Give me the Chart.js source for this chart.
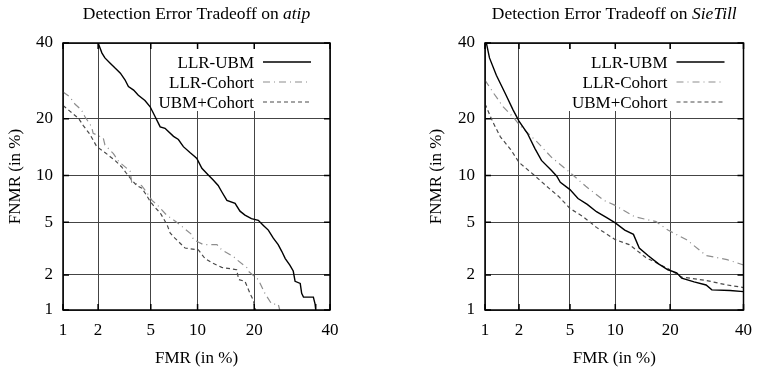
<!DOCTYPE html>
<html><head><meta charset="utf-8">
<script src="https://cdn.jsdelivr.net/npm/chart.js@4.4.1/dist/chart.umd.min.js"></script>
<style>
html,body{margin:0;padding:0;background:#fff;}
#wrap{position:relative;width:762px;height:370px;overflow:hidden;}
.cell{position:absolute;top:0;width:381px;height:370px;}
</style></head><body>
<div id="wrap">
<div class="cell" style="left:0"><canvas id="c1" width="381" height="370"></canvas></div>
<div class="cell" style="left:381px"><canvas id="c2" width="381" height="370"></canvas></div>
</div>
<script>
// ---------------- data (values in %) ----------------
const axisTicks = [1, 2, 5, 10, 20, 40];
const seriesNames = ['LLR-UBM', 'LLR-Cohort', 'UBM+Cohort'];

// atip
const atipUbmFmr   = [2.0, 2.15, 2.27, 2.5, 2.73, 3.0, 3.25, 3.45, 3.77, 4.08, 4.55, 4.95, 5.35, 5.8, 6.25, 7.1, 7.63, 8.2, 9.0, 9.65, 9.9, 10.6, 11.5, 12.3, 13.1, 13.7, 14.6, 16.1, 17.05, 18.05, 19.4, 20.9, 22.05, 23.2, 24.4, 25.6, 26.5, 27.4, 28.6, 29.5, 30.0, 31.4, 31.8, 32.3, 35.1, 35.6, 35.8];
const atipUbmFnmr  = [40, 37, 35.6, 34.1, 32.7, 31.3, 29.5, 27.7, 26.8, 25.5, 24.2, 22.7, 20.5, 18.3, 18, 16.4, 15.8, 14.5, 13.5, 12.8, 12.5, 11, 10.1, 9.4, 8.7, 7.95, 7.0, 6.7, 5.95, 5.6, 5.3, 5.15, 4.75, 4.4, 3.85, 3.45, 3.07, 2.7, 2.4, 2.15, 1.77, 1.7, 1.4, 1.3, 1.3, 1.13, 1.0];
const atipCohFmr   = [1.0, 1.15, 1.28, 1.45, 1.55, 1.77, 1.82, 2.2, 2.27, 2.65, 2.92, 3.55, 3.65, 4.3, 4.65, 5.1, 5.5, 6.4, 7.63, 9.2, 9.45, 10.8, 12.9, 13.7, 15.8, 16.4, 18.4, 18.7, 20.9, 22.4, 24.0, 25.6, 26.0];
const atipCohFnmr  = [26.3, 25.1, 23.3, 22, 20.5, 18.3, 17, 16.1, 14.8, 13.3, 12, 10.6, 9.1, 8.7, 7.95, 7.0, 6.6, 5.6, 4.9, 4.1, 3.75, 3.45, 3.45, 3.15, 2.8, 2.65, 2.3, 2.15, 1.83, 1.4, 1.13, 1.13, 1.0];
const atipMixFmr   = [1.0, 1.15, 1.37, 1.5, 1.71, 1.95, 2.27, 2.5, 2.73, 3.07, 3.33, 3.65, 3.97, 4.3, 4.65, 4.95, 5.35, 5.8, 6.45, 6.75, 7.25, 8.4, 10.1, 11.05, 12.1, 13.7, 16.4, 16.8, 18.05, 19.1, 19.8, 20.2, 20.3];
const atipMixFnmr  = [23, 21.7, 20.1, 18.6, 16.8, 14.5, 13.5, 12.8, 12.2, 11.2, 10.3, 9.4, 8.7, 8.4, 7.6, 6.9, 6.3, 5.8, 4.8, 4.2, 3.85, 3.25, 3.15, 2.7, 2.5, 2.3, 2.2, 1.83, 1.77, 1.4, 1.22, 1.03, 1.0];

// SieTill
const sieUbmFmr    = [1.03, 1.1, 1.27, 1.52, 1.78, 2.0, 2.35, 2.7, 3.05, 3.65, 4.0, 4.25, 5.0, 5.7, 6.6, 7.6, 8.9, 10.0, 11.4, 12.8, 13.8, 15.4, 17.5, 19.5, 21.5, 22.7, 25.8, 29.0, 30.6, 35.9, 40];
const sieUbmFnmr   = [40, 35.6, 30.7, 26, 22, 19.5, 17, 14.2, 12.2, 10.7, 9.9, 9.1, 8.2, 7.2, 6.6, 5.9, 5.35, 4.95, 4.4, 4.1, 3.25, 2.85, 2.45, 2.2, 2.08, 1.88, 1.75, 1.65, 1.5, 1.48, 1.45];
const sieCohFmr    = [1.0, 1.2, 1.47, 1.78, 2.03, 2.8, 3.65, 5.0, 6.45, 8.5, 10.0, 13.0, 17.0, 19.5, 23.9, 29.0, 35.0, 40];
const sieCohFnmr   = [29.4, 26, 22.6, 20.4, 18.6, 15.4, 12.7, 10.4, 8.6, 7.0, 6.5, 5.45, 5.05, 4.4, 3.75, 2.85, 2.65, 2.4];
const sieMixFmr    = [1.0, 1.18, 1.38, 1.7, 2.0, 2.6, 3.35, 4.15, 5.0, 6.2, 7.6, 10.0, 12.1, 15.0, 19.5, 22.7, 29.0, 35.0, 40];
const sieMixFnmr   = [23.4, 19.3, 16.3, 14, 11.9, 10.2, 8.6, 7.4, 6.2, 5.45, 4.6, 3.75, 3.45, 2.75, 2.25, 1.92, 1.8, 1.65, 1.57];

// ---------------- normal-deviate (probit) scale ----------------
function probit(p) {
  const a=[-3.969683028665376e+01,2.209460984245205e+02,-2.759285104469687e+02,1.383577518672690e+02,-3.066479806614716e+01,2.506628277459239e+00];
  const b=[-5.447609879822406e+01,1.615858368580409e+02,-1.556989798598866e+02,6.680131188771972e+01,-1.328068155288572e+01];
  const c=[-7.784894002430293e-03,-3.223964580411365e-01,-2.400758277161838e+00,-2.549732539343734e+00,4.374664141464968e+00,2.938163982698783e+00];
  const d=[7.784695709041462e-03,3.224671290700398e-01,2.445134137142996e+00,3.754408661907416e+00];
  const pl=0.02425, ph=1-pl; let q, r;
  if (p < pl) { q=Math.sqrt(-2*Math.log(p)); return (((((c[0]*q+c[1])*q+c[2])*q+c[3])*q+c[4])*q+c[5])/((((d[0]*q+d[1])*q+d[2])*q+d[3])*q+1); }
  if (p <= ph) { q=p-0.5; r=q*q; return (((((a[0]*r+a[1])*r+a[2])*r+a[3])*r+a[4])*r+a[5])*q/(((((b[0]*r+b[1])*r+b[2])*r+b[3])*r+b[4])*r+1); }
  q=Math.sqrt(-2*Math.log(1-p)); return -(((((c[0]*q+c[1])*q+c[2])*q+c[3])*q+c[4])*q+c[5])/((((d[0]*q+d[1])*q+d[2])*q+d[3])*q+1);
}
function normCdf(x) {
  const t = 1/(1+0.3275911*Math.abs(x)/Math.SQRT2);
  const y = 1-(((((1.061405429*t-1.453152027)*t)+1.421413741)*t-0.284496736)*t+0.254829592)*t*Math.exp(-x*x/2);
  return x >= 0 ? 0.5*(1+y) : 0.5*(1-y);
}
class ProbitScale extends Chart.LinearScale {
  static id = 'probit';
  static defaults = {};
  buildTicks() { return axisTicks.map(v => ({ value: v })); }
  configure() {
    super.configure();
    this._pStart = probit(this.min / 100);
    this._pEnd = probit(this.max / 100);
  }
  getPixelForValue(value) {
    if (value === null || value === undefined || !(value > 0)) return NaN;
    return this.getPixelForDecimal((probit(value / 100) - this._pStart) / (this._pEnd - this._pStart));
  }
  getValueForPixel(pixel) {
    return 100 * normCdf(this._pStart + this.getDecimalForPixel(pixel) * (this._pEnd - this._pStart));
  }
}
Chart.register(ProbitScale);

const FONT = '"Liberation Serif", "Times New Roman", serif';
Chart.defaults.font.family = FONT;
Chart.defaults.font.size = 17;
Chart.defaults.color = '#000';

const styles = [
  { borderColor: '#000000', borderWidth: 1.4, borderDash: [] },
  { borderColor: '#8e8e8e', borderWidth: 1.2, borderDash: [7, 4, 1, 4] },
  { borderColor: '#4a4a4a', borderWidth: 1.2, borderDash: [4, 3] }
];

function pts(xs, ys) { return xs.map((x, i) => ({ x: x, y: ys[i] })); }

const decor = {
  id: 'decor',
  afterDatasetsDraw(chart, args, opts) {
    const { ctx, chartArea: a } = chart;
    ctx.save();
    // frame + inward tick marks
    ctx.strokeStyle = '#000';
    ctx.lineWidth = 1.5;
    ctx.setLineDash([]);
    const xs = chart.scales.x, ys = chart.scales.y;
    ctx.beginPath();
    axisTicks.forEach(v => {
      const px = xs.getPixelForValue(v), py = ys.getPixelForValue(v);
      ctx.moveTo(px, a.bottom); ctx.lineTo(px, a.bottom - 6);
      ctx.moveTo(px, a.top); ctx.lineTo(px, a.top + 6);
      ctx.moveTo(a.left, py); ctx.lineTo(a.left + 6, py);
      ctx.moveTo(a.right, py); ctx.lineTo(a.right - 6, py);
    });
    ctx.stroke();
    ctx.strokeRect(a.left, a.top, a.right - a.left, a.bottom - a.top);
    // key (legend) inside the plot
    ctx.font = '17px ' + FONT;
    const textRight = a.right - 76;
    let maxW = 0;
    chart.data.datasets.forEach(ds => { maxW = Math.max(maxW, ctx.measureText(ds.label).width); });
    const bx = textRight - maxW - 3;
    ctx.fillStyle = '#fff';
    ctx.fillRect(bx, a.top + 6, a.right - 1.5 - bx, 62);
    chart.data.datasets.forEach((ds, i) => {
      ctx.fillStyle = '#000';
      ctx.textAlign = 'right';
      ctx.textBaseline = 'alphabetic';
      ctx.fillText(ds.label, textRight, a.top + 24.5 + 20 * i);
      const ly = a.top + 19 + 20 * i;
      ctx.strokeStyle = ds.borderColor;
      ctx.lineWidth = ds.borderWidth;
      ctx.setLineDash(ds.borderDash || []);
      ctx.beginPath();
      ctx.moveTo(a.right - 67, ly);
      ctx.lineTo(a.right - 19, ly);
      ctx.stroke();
    });
    ctx.setLineDash([]);
    // title with italic data-set name
    const TS = '17.5px ';
    ctx.fillStyle = '#000';
    ctx.textAlign = 'left';
    ctx.textBaseline = 'alphabetic';
    ctx.font = TS + FONT;
    const w1 = ctx.measureText(opts.main).width;
    ctx.font = 'italic ' + TS + FONT;
    const w2 = ctx.measureText(opts.name).width;
    const x0 = (a.left + a.right) / 2 - (w1 + w2) / 2;
    ctx.font = TS + FONT;
    ctx.fillText(opts.main, x0, 18.5);
    ctx.font = 'italic ' + TS + FONT;
    ctx.fillText(opts.name, x0 + w1, 18.5);
    ctx.restore();
  }
};

function makeChart(id, seriesX, seriesY, titleName, padLeft, yWidth, padRight) {
  const datasets = seriesNames.map((name, i) => Object.assign({
    label: name,
    data: pts(seriesX[i], seriesY[i]),
    showLine: true,
    pointRadius: 0,
    fill: false,
    tension: 0,
    clip: 0
  }, styles[i]));
  return new Chart(document.getElementById(id), {
    type: 'scatter',
    data: { datasets },
    plugins: [decor],
    options: {
      responsive: false,
      animation: false,
      events: [],
      layout: { padding: { left: padLeft, right: padRight, top: 43, bottom: 1 } },
      plugins: {
        legend: { display: false },
        tooltip: { enabled: false },
        decor: { main: 'Detection Error Tradeoff on ', name: titleName }
      },
      scales: {
        x: {
          type: 'probit', min: 1, max: 40,
          grid: { color: '#444', lineWidth: 1, drawTicks: false },
          border: { display: false },
          ticks: { padding: 10, autoSkip: false, maxRotation: 0, callback: v => String(v) },
          title: { display: true, text: 'FMR (in %)', padding: { top: 0, bottom: 0 } },
          afterFit: s => { s.height = 59; }
        },
        y: {
          type: 'probit', min: 1, max: 40,
          grid: { color: '#444', lineWidth: 1, drawTicks: false },
          border: { display: false },
          ticks: { padding: 10, autoSkip: false, callback: v => String(v) },
          title: { display: true, text: 'FNMR (in %)', padding: { top: 5, bottom: 0 } },
          afterFit: s => { s.width = yWidth; }
        }
      }
    }
  });
}

makeChart('c1', [atipUbmFmr, atipCohFmr, atipMixFmr], [atipUbmFnmr, atipCohFnmr, atipMixFnmr], 'atip', 0, 63, 51);
makeChart('c2', [sieUbmFmr, sieCohFmr, sieMixFmr], [sieUbmFnmr, sieCohFnmr, sieMixFnmr], 'SieTill', 40, 64, 11);
</script>
</body></html>
